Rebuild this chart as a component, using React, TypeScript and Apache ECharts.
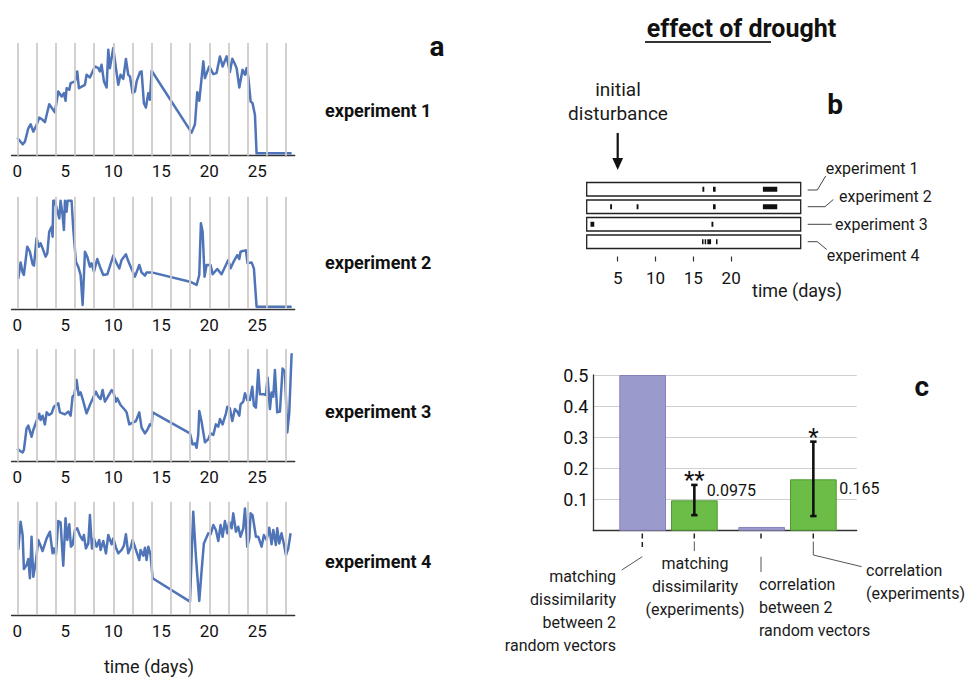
import React, { useEffect, useRef } from "react";
import * as echarts from "echarts";

const FONT = "Roboto, 'Noto Sans', 'DejaVu Sans', sans-serif";

// ---------- Panel a: daily traces ----------
const exp1Days = [0,0.56,0.8,1.15,1.39,1.67,2.01,2.29,2.53,2.88,3.33,3.92,4.27,4.62,4.86,5.03,5.14,5.42,5.56,6.01,6.25,6.42,7.05,7.22,7.57,8.09,8.44,8.61,8.78,9.03,9.31,9.48,9.65,10,10.28,10.52,10.76,11.04,11.32,11.56,11.74,12.01,12.26,12.43,12.78,12.95,13.19,13.4,13.65,13.82,14,18.16,18.51,18.75,18.96,19.38,19.55,20,20.42,20.76,21.11,21.39,21.81,22.15,22.4,22.67,22.85,23.13,23.47,23.72,23.89,24.06,24.31,24.51,24.76,24.93,28.58];
const exp1Values = [16,10.1,12.5,24.3,27.9,21.4,27.3,33.8,32.6,29.7,45.7,38.6,57,52.5,55.5,48.7,59.9,58.5,64.4,65.9,74.8,59.9,62.9,71.8,69.4,79.2,77.7,74.8,80.7,65.9,60.5,94.1,77.7,95.5,77.7,62.9,71.8,68.2,85.8,71.8,70.3,55.5,57,65.9,74.2,74.8,46.6,42.7,55.5,49.6,75.4,20.5,27.9,56.4,48.7,83.7,68.8,79.2,72.4,73.3,88.1,79.2,88.1,74.2,86.1,81.3,77.7,60.5,76.3,71.8,77.7,70.3,48.1,46.6,36.2,2.1,2.1];

const exp2Days = [0.1,0.35,0.56,0.69,1.04,1.32,1.6,1.74,2.01,2.26,2.43,2.64,2.95,3.13,3.33,3.58,3.68,3.75,3.92,4.1,4.38,4.51,4.72,4.86,4.97,5.14,5.24,5.66,5.83,6.11,6.35,6.6,6.81,7.05,7.29,7.57,7.74,7.99,8.33,8.61,8.96,9.38,10,10.35,10.63,10.87,11.32,11.56,11.91,12.26,12.71,12.95,13.3,13.47,14,17.99,18.68,18.96,19.13,19.31,19.51,19.72,20.14,20.35,20.83,21.28,21.98,22.22,22.5,22.92,23.13,23.26,23.47,23.82,23.99,24.41,24.65,24.93,28.58];
const exp2Values = [26.7,41.5,32.6,30.3,55.5,51,39.8,38.6,62.9,55.5,58.5,54,46.6,49.6,68.8,73.3,64.4,96.4,96.4,89.6,80.7,96.4,83.7,70.3,96.4,86.6,96.4,96.4,71.8,42.1,37.7,30.3,3.6,51,46.6,37.7,40.7,33.2,44.5,37.7,30.3,30.9,47.5,40.7,36.2,43.6,48.7,42.7,35.6,28.8,39.2,32.6,29.7,32.6,32.6,24.3,21.4,30.3,76.3,68.8,28.8,39.2,39.2,30.9,35.6,30.9,43.6,36.2,41.5,48.1,44.5,51,51.6,52.2,40.7,41.5,36.2,2.1,2.1];

const exp3Days = [0,0.28,0.56,0.69,0.97,1.15,1.49,1.67,2.01,2.29,2.43,2.64,2.88,3.06,3.33,3.58,3.82,4.27,4.44,4.97,5.31,5.56,5.76,5.94,6.18,6.39,6.6,6.81,7.22,7.64,7.85,8.19,8.44,8.68,8.89,9.13,9.38,9.83,10,10.28,10.42,10.76,11.22,11.39,11.67,12.08,12.36,12.71,12.95,13.3,13.54,13.82,14,14.1,17.99,18.26,18.51,18.68,18.85,18.96,19.2,19.55,19.9,20.14,20.42,20.69,20.94,21.11,21.39,21.74,21.88,22.15,22.4,22.67,22.92,23.13,23.26,23.54,23.72,23.96,24.24,24.48,24.65,24.86,25.1,25.28,25.69,25.9,26.08,26.32,26.49,26.67,26.84,27.08,27.36,27.64,27.88,28.13,28.33,28.58];
const exp3Values = [11.8,9.5,8.3,10.4,29.6,32,22.2,28.1,36.1,42.6,37,40.8,33.1,43.8,41.4,42.9,48.8,51.8,43.8,42,44.4,40.8,57.7,59.2,72.5,59.2,61.5,55.6,42.9,51.8,55.6,62.1,57.7,55.6,63.6,53.3,56.8,63.6,62.1,53.3,56.2,50.3,45.9,43.8,33.1,34.9,36.1,43.8,30.2,25.1,28.1,33.1,32,43.8,25.1,15.4,16.3,12.4,23.7,45,35.5,17.2,20.1,25.1,23.7,33.1,31.1,37.9,33.1,42.9,48.8,47.3,36.1,46.7,44.4,40.8,50.9,53.3,60.7,54.7,54.7,66.6,49.7,47.9,81.4,59.8,59.8,59.2,74.6,46.7,61.5,57.7,81.4,43.8,44.4,82.8,79.9,26,42.9,96.2];

const exp4Days = [0.1,0.35,0.56,0.69,0.97,1.15,1.32,1.49,1.67,1.94,2.19,2.64,3.06,3.4,3.68,3.82,4.03,4.27,4.51,4.79,5.03,5.21,5.42,5.59,5.76,6.01,6.25,6.53,6.81,6.94,7.15,7.4,7.57,7.78,7.99,8.26,8.54,8.68,8.96,9.24,9.48,9.83,10,10.28,10.52,10.87,11.11,11.32,11.56,11.81,12.01,12.36,12.71,12.85,13.13,13.3,13.47,13.65,13.89,14.1,17.99,18.33,18.61,18.96,19.2,19.44,19.9,20.14,20.42,20.69,20.94,21.18,21.39,21.63,21.88,22.08,22.33,22.5,22.78,23.02,23.26,23.54,23.72,23.96,24.17,24.31,24.51,24.86,25.1,25.45,25.69,25.97,26.25,26.49,26.67,26.94,27.08,27.29,27.53,27.78,27.99,28.23,28.47];
const exp4Values = [57.4,82.4,70.6,40.6,44.1,49.4,32.4,69.1,33.8,47.1,66.2,56.5,67.6,73.5,54.4,58.8,53.5,82.9,81.8,43.5,85.3,66.2,80,60.3,61.8,75,76.5,70,66.2,70.6,58.8,63.2,88.2,58.8,67.6,60.3,66.2,57.4,65.3,54.4,70.6,62.4,67.6,59.4,54.4,57.4,61.2,71.2,54.4,59.4,66.2,57.4,48.5,57.4,52.4,59.4,48.5,60.3,52.9,32.4,11.8,91.2,51.5,12.4,38.8,63.2,72.1,71.2,79.4,75,65.3,79.4,69.1,82.9,72.1,82.4,76.5,89.7,73.5,77.9,69.1,76.5,94.1,60.3,67.6,89.7,88.2,69.1,69.1,60.3,70.6,66.2,77.1,62.4,75,61.8,76.5,63.2,72.1,62.4,52.9,58.8,72.1];

const experimentNames = ["experiment 1", "experiment 2", "experiment 3", "experiment 4"];
const gridDays = [0, 2, 4, 6, 8, 10, 12, 14, 16, 18, 20, 22, 24, 26, 28];
const dayTickLabels = [0, 5, 10, 15, 20, 25];

// ---------- Panel b: events ----------
const trackStartDay = 0.9;
const trackEndDay = 29.2;
const eventTrack = [0, 0, 0, 1, 1, 1, 1, 2, 2, 3, 3, 3, 3];
const eventStart = [16.2, 17.6, 24.2, 4.0, 7.5, 17.6, 24.2, 1.4, 17.4, 16.15, 16.5, 16.85, 18.0];
const eventEnd = [16.45, 17.95, 26.1, 4.25, 7.75, 17.95, 26.1, 1.9, 17.65, 16.35, 16.7, 17.35, 18.2];
const bTickDays = [5, 10, 15, 20];

// ---------- Panel c: bars ----------
const barGroups = ["matching dissimilarity", "correlation"];
const randomValues = [0.5, 0.012];
const experimentValues = [0.0975, 0.165];
const errLow = [0.05, 0.047];
const errHigh = [0.147, 0.286];
const significance = ["**", "*"];
const cLabels = [
  "matching\ndissimilarity\nbetween 2\nrandom vectors",
  "matching\ndissimilarity\n(experiments)",
  "correlation\nbetween 2\nrandom vectors",
  "correlation\n(experiments)",
];

const aDays = [exp1Days, exp2Days, exp3Days, exp4Days];
const aValues = [exp1Values, exp2Values, exp3Values, exp4Values];
const aLayout = [
  { top: 43, height: 112.7, label: 110 },
  { top: 196.7, height: 112.3, label: 262 },
  { top: 349, height: 112.7, label: 411 },
  { top: 501.7, height: 113.3, label: 561 },
];

const BAR_W = 46.7;
const BAR_GAP_PX = 5;

function buildOption(): any {
  const grid: any[] = [];
  const xAxis: any[] = [];
  const yAxis: any[] = [];
  const series: any[] = [];
  const graphic: any[] = [];

  const txt = (x: number, y: number, text: string, size: number, opts: any = {}) => ({
    type: "text",
    x,
    y,
    silent: true,
    style: {
      text,
      font: `${opts.weight || "normal"} ${size}px ${FONT}`,
      fill: opts.fill || "#1a1a1a",
      textAlign: opts.align || "left",
      align: opts.align || "left",
      textVerticalAlign: opts.vAlign || "middle",
      verticalAlign: opts.vAlign || "middle",
      lineHeight: opts.lineHeight,
    },
  });
  const ln = (pts: number[][], color = "#444", w = 1) => ({
    type: "polyline",
    silent: true,
    shape: { points: pts },
    style: { stroke: color, lineWidth: w, fill: null },
  });

  // ---- Panel a ----
  aLayout.forEach((L, i) => {
    grid.push({ left: 11.5, width: 283.2, top: L.top, height: L.height });
    xAxis.push({
      gridIndex: i,
      type: "value",
      min: -0.6,
      max: 28.9,
      axisLine: { show: true, onZero: false, lineStyle: { color: "#333", width: 1.3 } },
      axisTick: { show: false },
      splitLine: { show: false },
      axisLabel: {
        customValues: dayTickLabels,
        fontSize: 17,
        color: "#111",
        margin: 7,
        fontFamily: FONT,
      },
    });
    yAxis.push({ gridIndex: i, type: "value", min: 0, max: 100, show: false });
    series.push({
      type: "line",
      xAxisIndex: i,
      yAxisIndex: i,
      data: [],
      z: 1,
      silent: true,
      markLine: {
        silent: true,
        symbol: ["none", "none"],
        label: { show: false },
        lineStyle: { color: "#d0cbcb", width: 1.8, type: "solid" },
        data: gridDays.map((d) => ({ xAxis: d })),
      },
    });
    const days = aDays[i];
    const vals = aValues[i];
    const n = Math.min(days.length, vals.length);
    const data: number[][] = [];
    for (let j = 0; j < n; j++) data.push([days[j], vals[j]]);
    series.push({
      type: "line",
      xAxisIndex: i,
      yAxisIndex: i,
      data,
      symbol: "none",
      showSymbol: false,
      z: 3,
      lineStyle: { color: "#4f74b8", width: 2.5, join: "round" },
    });
    graphic.push(txt(325, L.label, experimentNames[i], 18, { weight: "bold", fill: "#111" }));
  });
  graphic.push(txt(149, 666, "time (days)", 18, { align: "center" }));
  graphic.push(txt(437, 46, "a", 28, { weight: "bold", align: "center", fill: "#111" }));

  // ---- Title ----
  graphic.push(txt(741.5, 28, "effect of drought", 25, { weight: "bold", align: "center", fill: "#111" }));
  graphic.push({
    type: "line",
    silent: true,
    shape: { x1: 645, y1: 42, x2: 771, y2: 42 },
    style: { stroke: "#333", lineWidth: 2 },
  });

  // ---- Panel b ----
  const bi = 4;
  grid.push({ left: 586.7, width: 214, top: 180.5, height: 70 });
  xAxis.push({
    gridIndex: bi,
    type: "value",
    min: trackStartDay,
    max: trackEndDay,
    offset: 6,
    axisLine: { show: false },
    splitLine: { show: false },
    axisTick: { show: true, customValues: bTickDays, length: 5, lineStyle: { color: "#333", width: 1.2 } },
    axisLabel: { customValues: bTickDays, margin: 13, fontSize: 17, color: "#111", fontFamily: FONT },
  });
  yAxis.push({ gridIndex: bi, type: "category", data: experimentNames, inverse: true, show: false });
  series.push({
    type: "custom",
    xAxisIndex: bi,
    yAxisIndex: bi,
    silent: true,
    z: 2,
    encode: { x: [0, 1], y: 2 },
    data: experimentNames.map((_, i) => [trackStartDay, trackEndDay, i]),
    renderItem: (params: any, api: any) => {
      const s = api.coord([api.value(0), api.value(2)]);
      const e = api.coord([api.value(1), api.value(2)]);
      const h = api.size([0, 1])[1] * 0.77;
      return {
        type: "rect",
        shape: { x: s[0], y: s[1] - h / 2, width: e[0] - s[0], height: h },
        style: { fill: "#fff", stroke: "#222", lineWidth: 1.3 },
      };
    },
  });
  series.push({
    type: "custom",
    xAxisIndex: bi,
    yAxisIndex: bi,
    silent: true,
    z: 3,
    encode: { x: [0, 1], y: 2 },
    data: eventTrack.map((t, i) => [eventStart[i], eventEnd[i], t]),
    renderItem: (params: any, api: any) => {
      const s = api.coord([api.value(0), api.value(2)]);
      const e = api.coord([api.value(1), api.value(2)]);
      const h = 5;
      return {
        type: "rect",
        shape: { x: s[0], y: s[1] - h / 2, width: Math.max(e[0] - s[0], 1.5), height: h },
        style: { fill: "#111" },
      };
    },
  });
  graphic.push(txt(618, 89, "initial", 19, { align: "center" }));
  graphic.push(txt(618, 113, "disturbance", 19, { align: "center" }));
  graphic.push({
    type: "line",
    silent: true,
    shape: { x1: 617.7, y1: 133, x2: 617.7, y2: 160 },
    style: { stroke: "#111", lineWidth: 2.2 },
  });
  graphic.push({
    type: "polygon",
    silent: true,
    shape: { points: [[612.3, 158], [623.1, 158], [617.7, 170]] },
    style: { fill: "#111" },
  });
  graphic.push(ln([[807.7, 190], [817.3, 190], [825.7, 176]]));
  graphic.push(ln([[807.7, 206.7], [825, 206.7], [833.3, 199.5]]));
  graphic.push(ln([[807.7, 224.3], [831.7, 224.3]]));
  graphic.push(ln([[807.7, 241.7], [817.3, 241.7], [826.7, 249.5]]));
  graphic.push(txt(825.7, 168.3, experimentNames[0], 16));
  graphic.push(txt(839, 196.7, experimentNames[1], 16));
  graphic.push(txt(835, 224.3, experimentNames[2], 16));
  graphic.push(txt(826.7, 255, experimentNames[3], 16));
  graphic.push(txt(752, 290, "time (days)", 18));
  graphic.push(txt(835, 104, "b", 28, { weight: "bold", align: "center", fill: "#111" }));

  // ---- Panel c ----
  const ci = 5;
  grid.push({ left: 593.3, width: 263.4, top: 375, height: 155.7 });
  xAxis.push({
    gridIndex: ci,
    type: "value",
    min: 0,
    max: 1,
    axisLine: { show: true, lineStyle: { color: "#333", width: 1.3 } },
    axisTick: { show: false },
    axisLabel: { show: false },
    splitLine: { show: false },
  });
  yAxis.push({
    gridIndex: ci,
    type: "value",
    min: 0,
    max: 0.5,
    interval: 0.1,
    axisLine: { show: true, lineStyle: { color: "#333", width: 1.3 } },
    axisTick: { show: false },
    splitLine: { show: true, lineStyle: { color: "#cfcfcf", width: 1.2 } },
    axisLabel: {
      formatter: (v: number) => (v === 0 ? "" : v.toFixed(1)),
      fontSize: 18,
      margin: 5,
      color: "#111",
      fontFamily: FONT,
    },
  });
  const bari = 6;
  grid.push({ left: 609, width: 238, top: 375, height: 155.7 });
  xAxis.push({ gridIndex: bari, type: "category", data: barGroups, show: false });
  yAxis.push({ gridIndex: bari, type: "value", min: 0, max: 0.5, show: false });
  const labelOffsets = [[-16, -25.5], [-2.4, -16.7]];
  series.push({
    type: "bar",
    xAxisIndex: bari,
    yAxisIndex: bari,
    data: randomValues,
    barWidth: BAR_W,
    barGap: `${(BAR_GAP_PX / BAR_W) * 100}%`,
    silent: true,
    z: 3,
    itemStyle: { color: "#9a9acd", borderColor: "#8484bb", borderWidth: 1 },
  });
  series.push({
    type: "bar",
    xAxisIndex: bari,
    yAxisIndex: bari,
    barWidth: BAR_W,
    barGap: `${(BAR_GAP_PX / BAR_W) * 100}%`,
    silent: true,
    z: 3,
    itemStyle: { color: "#6cbd48", borderColor: "#4f9a33", borderWidth: 1 },
    data: experimentValues.map((v, i) => ({
      value: v,
      label: {
        show: true,
        position: "right",
        distance: 5,
        offset: labelOffsets[i],
        formatter: "{c}",
        fontSize: 16,
        color: "#111",
        fontFamily: FONT,
      },
    })),
  });
  series.push({
    type: "custom",
    xAxisIndex: bari,
    yAxisIndex: bari,
    silent: true,
    z: 5,
    encode: { x: 0, y: [1, 2] },
    data: errLow.map((lo, i) => [i, lo, errHigh[i]]),
    renderItem: (params: any, api: any) => {
      const idx = api.value(0);
      const lo = api.coord([idx, api.value(1)]);
      const hi = api.coord([idx, api.value(2)]);
      const x = lo[0] + (BAR_W + BAR_GAP_PX) / 2;
      const cw = 3.2;
      const st = { stroke: "#111", lineWidth: 2.6 };
      return {
        type: "group",
        children: [
          { type: "line", shape: { x1: x, y1: lo[1], x2: x, y2: hi[1] }, style: st },
          { type: "line", shape: { x1: x - cw, y1: lo[1], x2: x + cw, y2: lo[1] }, style: st },
          { type: "line", shape: { x1: x - cw, y1: hi[1], x2: x + cw, y2: hi[1] }, style: st },
          {
            type: "text",
            x,
            y: hi[1] - 5,
            style: {
              text: significance[idx],
              font: `normal 24px ${FONT}`,
              fill: "#111",
              textAlign: "center",
              align: "center",
              textVerticalAlign: "middle",
              verticalAlign: "middle",
            },
          },
        ],
      };
    },
  });

  // tick marks under bars and leader lines
  const barX = [642.3, 694.3, 761, 813.3];
  barX.forEach((x) => {
    graphic.push({
      type: "line",
      silent: true,
      shape: { x1: x, y1: 533.5, x2: x, y2: 538.5 },
      style: { stroke: "#222", lineWidth: 1.5 },
    });
  });
  graphic.push(ln([[642.3, 542], [642.3, 547]], "#222", 1.5));
  graphic.push(ln([[642.3, 556.7], [621.7, 570]], "#555", 1));
  graphic.push(ln([[694.3, 541.5], [694.3, 551]], "#555", 1));
  graphic.push(ln([[761, 556.7], [761, 572]], "#555", 1));
  graphic.push(ln([[813.3, 541.5], [813.3, 555], [861.7, 566.7]], "#555", 1));

  graphic.push(txt(616, 564.5, cLabels[0], 16, { align: "right", vAlign: "top", lineHeight: 23 }));
  graphic.push(txt(695, 551.8, cLabels[1], 16, { align: "center", vAlign: "top", lineHeight: 23 }));
  graphic.push(txt(759, 572.5, cLabels[2], 16, { align: "left", vAlign: "top", lineHeight: 23 }));
  graphic.push(txt(866, 559.2, cLabels[3], 16, { align: "left", vAlign: "top", lineHeight: 23 }));
  graphic.push(txt(921.7, 386, "c", 28, { weight: "bold", align: "center", fill: "#111" }));

  return {
    animation: false,
    backgroundColor: "#ffffff",
    textStyle: { fontFamily: FONT },
    grid,
    xAxis,
    yAxis,
    series,
    graphic: { elements: graphic },
  };
}

export default function App() {
  const ref = useRef<HTMLDivElement | null>(null);
  useEffect(() => {
    if (!ref.current) return;
    document.body.style.margin = "0";
    const chart = echarts.init(ref.current, undefined, { renderer: "svg" });
    chart.setOption(buildOption());
    return () => {
      chart.dispose();
    };
  }, []);
  return (
    <div
      ref={ref}
      style={{ position: "absolute", left: 0, top: 0, width: 968, height: 678, background: "#fff" }}
    />
  );
}
